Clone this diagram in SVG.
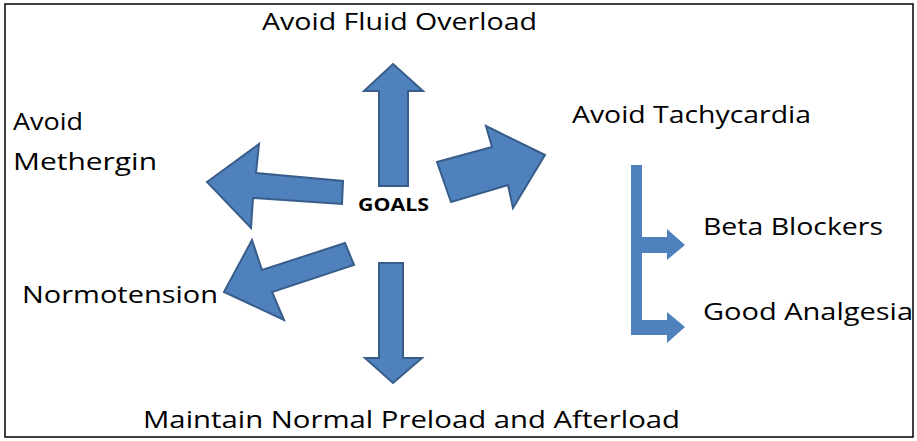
<svg xmlns="http://www.w3.org/2000/svg" width="917" height="441" viewBox="0 0 917 441">
<style>
.lbl{font-family:"Open Sans","Liberation Sans",sans-serif;font-size:24px;fill:#000}
.goal{font-family:"Open Sans","Liberation Sans",sans-serif;font-size:17px;font-weight:bold;fill:#000}
.arr{fill:#4f81bd;stroke:#385d8a;stroke-width:2;stroke-linejoin:miter}
.br{fill:#4f81bd}
</style>
<rect x="5" y="4" width="908" height="433" fill="#fff" stroke="#000" stroke-width="1.5"/>
<g id="connectors">
<polygon class="arr" points="393,64 423,91 408,91 408,186 379,186 379,91 364,91"/>
<polygon class="arr" points="207,182 259,144 256,173 343,181 342,204 253,198 251,228"/>
<polygon class="arr" points="224,292 252,240 262,270 345,243 354,265 272,292 284,320"/>
<polygon class="arr" points="545,155 486,126 492,147 437,162 451,202 508,185 513,208"/>
<polygon class="arr" points="379,263 403,263 403,358 422,358 393,383 365,358 379,358"/>
<path class="br" d="M631,165 H642 V237 H667 V229 L685,245 L667,260 V253 H642 V320 H667 V312 L685,327 L667,343 V335 H631 Z"/>
</g>
<g id="goals"><text class="goal" x="358" y="211" textLength="71" lengthAdjust="spacingAndGlyphs">GOALS</text></g>
<g id="fluid"><text class="lbl" x="262" y="30" textLength="275" lengthAdjust="spacingAndGlyphs">Avoid Fluid Overload</text></g>
<g id="methergin"><text class="lbl" x="13" y="130" textLength="70" lengthAdjust="spacingAndGlyphs">Avoid</text><text class="lbl" x="13" y="170" textLength="144" lengthAdjust="spacingAndGlyphs">Methergin</text></g>
<g id="tachy"><text class="lbl" x="572" y="123" textLength="239" lengthAdjust="spacingAndGlyphs">Avoid Tachycardia</text></g>
<g id="beta"><text class="lbl" x="703" y="235" textLength="180" lengthAdjust="spacingAndGlyphs">Beta Blockers</text></g>
<g id="analgesia"><text class="lbl" x="703" y="320" textLength="210" lengthAdjust="spacingAndGlyphs">Good Analgesia</text></g>
<g id="normo"><text class="lbl" x="22" y="303" textLength="196" lengthAdjust="spacingAndGlyphs">Normotension</text></g>
<g id="preload"><text class="lbl" x="143" y="428" textLength="537" lengthAdjust="spacingAndGlyphs">Maintain Normal Preload and Afterload</text></g>
</svg>
